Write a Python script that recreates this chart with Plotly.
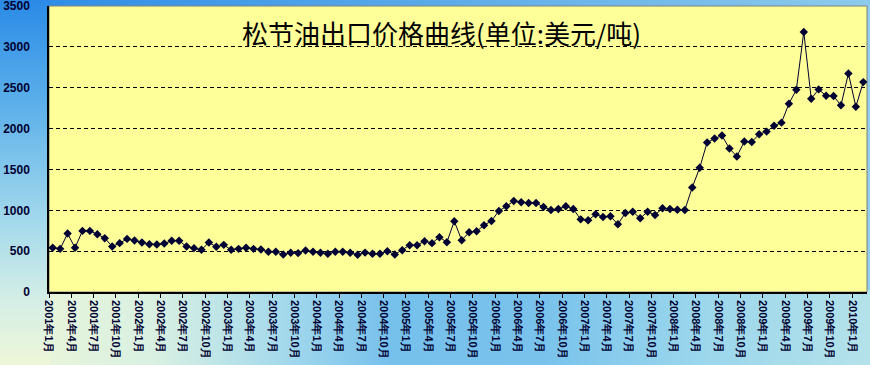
import base64
import plotly.graph_objects as go

# ---- data ----
years = list(range(2001, 2011))
months = [f"{y}年{m}月" for y in years for m in range(1, 13)][:110]  # 2001年1月 .. 2010年2月

prices = [
    541, 528, 715, 541, 748, 748, 707, 659, 557, 598, 650, 630,   # 2001
    606, 585, 581, 594, 626, 626, 557, 537, 516, 606, 553, 577,   # 2002
    516, 528, 541, 528, 520, 492, 492, 459, 480, 476, 508, 492,   # 2003
    480, 467, 492, 492, 480, 455, 482, 467, 467, 500, 459, 512,   # 2004
    573, 573, 622, 598, 671, 610, 866, 634, 732, 743, 817, 870,   # 2005
    992, 1049, 1114, 1098, 1089, 1089, 1040, 1004, 1016, 1049, 1016, 889,  # 2006
    877, 951, 918, 927, 829, 967, 983, 902, 983, 943, 1024, 1016,  # 2007
    1006, 1004, 1280, 1520, 1829, 1878, 1915, 1756, 1659, 1841, 1837, 1931,  # 2008
    1963, 2035, 2073, 2305, 2476, 3183, 2366, 2480, 2402, 2398, 2285, 2675,  # 2009
    2268, 2569,  # 2010
]

tick_labels = months[::3]
y_ticks = [0, 500, 1000, 1500, 2000, 2500, 3000, 3500]
title_text = "松节油出口价格曲线(单位:美元/吨)"

# ---- figure geometry ----
W, H = 870, 365
ML, MR, MT, MB = 49, 3, 6, 73
PW, PH = W - ML - MR, H - MT - MB

# background gradient (SVG data URI)
svg = f'''<svg xmlns="http://www.w3.org/2000/svg" width="{W}" height="{H}" viewBox="0 0 {W} {H}" preserveAspectRatio="none">
<defs>
<linearGradient id="lv" x1="0" y1="0" x2="0" y2="1">
<stop offset="0" stop-color="#2a8ae6"/>
<stop offset="0.3" stop-color="#5fb2ea"/>
<stop offset="0.6" stop-color="#a2d8ec"/>
<stop offset="0.82" stop-color="#d4eee6"/>
<stop offset="1" stop-color="#eef7d8"/>
</linearGradient>
<linearGradient id="lh" x1="0" y1="0" x2="1" y2="0">
<stop offset="0" stop-color="#eef7d8"/>
<stop offset="0.18" stop-color="#d8f0e2"/>
<stop offset="0.32" stop-color="#a6daec"/>
<stop offset="0.45" stop-color="#76c0ec"/>
<stop offset="0.62" stop-color="#78c2ec"/>
<stop offset="0.8" stop-color="#9ad6ec"/>
<stop offset="1" stop-color="#b4e2ea"/>
</linearGradient>
<linearGradient id="lt" x1="0" y1="0" x2="1" y2="0">
<stop offset="0" stop-color="#2a8ae6"/>
<stop offset="1" stop-color="#8ccbec"/>
</linearGradient>
</defs>
<rect x="0" y="0" width="{W}" height="{H}" fill="#90ccec"/>
<rect x="0" y="0" width="{W}" height="{MT + 2}" fill="url(#lt)"/>
<rect x="0" y="{H - MB - 2}" width="{W}" height="{MB + 2}" fill="url(#lh)"/>
<rect x="0" y="0" width="{ML + 1}" height="{H}" fill="url(#lv)"/>
</svg>'''
bg_uri = "data:image/svg+xml;base64," + base64.b64encode(svg.encode("utf-8")).decode("ascii")

x_idx = list(range(len(prices)))
tick_pos = [i - 0.5 for i in range(0, len(prices), 3)]

fig = go.Figure()
fig.add_trace(go.Scatter(
    x=x_idx, y=prices, mode="lines+markers",
    line=dict(color="#000033", width=1),
    marker=dict(symbol="diamond", size=6.5, color="#000033"),
    hoverinfo="skip", showlegend=False, cliponaxis=False,
))

fig.add_layout_image(dict(
    source=bg_uri, xref="paper", yref="paper",
    x=-ML / PW, y=1 + MT / PH, sizex=W / PW, sizey=H / PH,
    xanchor="left", yanchor="top", sizing="stretch", layer="below",
))

# plot-area fill and frame
fig.add_shape(type="rect", xref="paper", yref="paper", x0=0, x1=1, y0=0, y1=1,
              fillcolor="#FFFF99", line=dict(color="#808080", width=1), layer="below")

fig.add_annotation(
    text=title_text, xref="paper", yref="paper",
    x=(441 - ML) / PW, y=(H - MB - 32) / PH, xanchor="center", yanchor="middle",
    showarrow=False, font=dict(family="Noto Sans CJK SC", size=26, color="#000000"),
)

fig.update_layout(
    width=W, height=H,
    margin=dict(l=ML, r=MR, t=MT, b=MB, pad=0),
    paper_bgcolor="rgba(0,0,0,0)",
    plot_bgcolor="rgba(0,0,0,0)",
    font=dict(family="Liberation Sans, Arial, sans-serif", color="#000030"),
    xaxis=dict(
        range=[-0.5, len(prices) - 0.5], automargin=False,
        tickmode="array", tickvals=tick_pos, ticktext=tick_labels,
        tickangle=90, ticks="outside", ticklen=4, tickcolor="#000000",
        tickfont=dict(size=11, family="Liberation Sans, Arial, sans-serif", weight="bold", color="#000030"),
        ticklabeloverflow="allow",
        showline=True, linecolor="#000000", linewidth=1.5,
        showgrid=False, zeroline=False,
    ),
    yaxis=dict(
        range=[0, 3500.5], automargin=False, tickmode="array", tickvals=y_ticks,
        ticks="", ticklabelstandoff=15, ticklabeloverflow="allow",
        tickfont=dict(size=12, family="Liberation Sans, Arial, sans-serif", weight="bold", color="#000030"),
        showline=True, linecolor="#000000", linewidth=1.5,
        showgrid=True, gridcolor="#000000", gridwidth=1, griddash="4px,3px",
        zeroline=False,
    ),
)

fig.write_html(
    "out.html",
    config={"displayModeBar": False},
    post_script="document.body.style.margin='0';document.body.style.overflow='hidden';",
)
